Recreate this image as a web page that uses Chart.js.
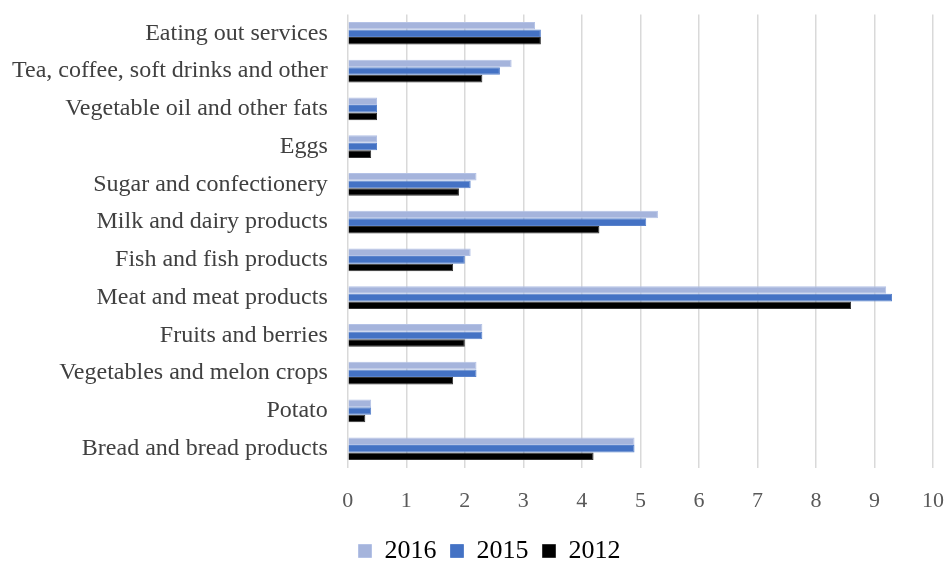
<!DOCTYPE html>
<html>
<head>
<meta charset="utf-8">
<script src="https://cdn.jsdelivr.net/npm/chart.js@4/dist/chart.umd.min.js"></script>
<style>
  html, body { margin: 0; padding: 0; background: #fff; }
  #wrap { width: 949px; height: 561px; position: relative; }
</style>
</head>
<body>
<div id="wrap"><canvas id="chart"></canvas></div>
<script>
const categories = [
    'Eating out services',
    'Tea, coffee, soft drinks and other',
    'Vegetable oil and other fats',
    'Eggs',
    'Sugar and confectionery',
    'Milk and dairy products',
    'Fish and fish products',
    'Meat and meat products',
    'Fruits and berries',
    'Vegetables and melon crops',
    'Potato',
    'Bread and bread products'
];

const values2016 = [3.2, 2.8, 0.5, 0.5, 2.2, 5.3, 2.1, 9.2, 2.3, 2.2, 0.4, 4.9];
const values2015 = [3.3, 2.6, 0.5, 0.5, 2.1, 5.1, 2.0, 9.3, 2.3, 2.2, 0.4, 4.9];
const values2012 = [3.3, 2.3, 0.5, 0.4, 1.9, 4.3, 1.8, 8.6, 2.0, 1.8, 0.3, 4.2];

// the legend in the original sits a little right of centre
const legendShift = {
    id: 'legendShift',
    afterLayout(chart) {
        if (chart.legend) {
            chart.legend.left += 9;
            chart.legend.right += 9;
        }
    }
};

const ctx = document.getElementById('chart').getContext('2d');

new Chart(ctx, {
    type: 'bar',
    data: {
        labels: categories,
        datasets: [
            { label: '2016', data: values2016, backgroundColor: '#a5b4dc', borderColor: '#b4c2e6', borderWidth: 1 },
            { label: '2015', data: values2015, backgroundColor: '#4472c4', borderColor: '#5a83cc', borderWidth: 1 },
            { label: '2012', data: values2012, backgroundColor: '#000000', borderColor: '#333333', borderWidth: 1 }
        ]
    },
    plugins: [legendShift],
    options: {
        indexAxis: 'y',
        responsive: true,
        maintainAspectRatio: false,
        animation: false,
        datasets: {
            bar: { barPercentage: 1.0, categoryPercentage: 0.6 }
        },
        layout: {
            padding: { left: 12, right: 0, top: 0, bottom: -13 }
        },
        scales: {
            x: {
                min: 0,
                max: 10,
                afterFit: (scale) => { scale.height += 5; },
                ticks: {
                    stepSize: 1,
                    color: '#595959',
                    padding: 5,
                    font: { family: 'Liberation Serif', size: 22 }
                },
                grid: { color: '#d9d9d9', lineWidth: 1.5, drawTicks: true, tickLength: 15, tickColor: 'rgba(0,0,0,0)' },
                border: { display: false }
            },
            y: {
                ticks: {
                    color: '#404040',
                    padding: 0,
                    font: { family: 'Liberation Serif', size: 24 }
                },
                grid: { display: false, tickLength: 20 },
                border: { display: false }
            }
        },
        plugins: {
            legend: {
                position: 'bottom',
                labels: {
                    color: '#000',
                    boxWidth: 13,
                    boxHeight: 13,
                    padding: 14,
                    font: { family: 'Liberation Serif', size: 26 }
                }
            },
            tooltip: { enabled: false }
        }
    }
});
</script>
</body>
</html>
